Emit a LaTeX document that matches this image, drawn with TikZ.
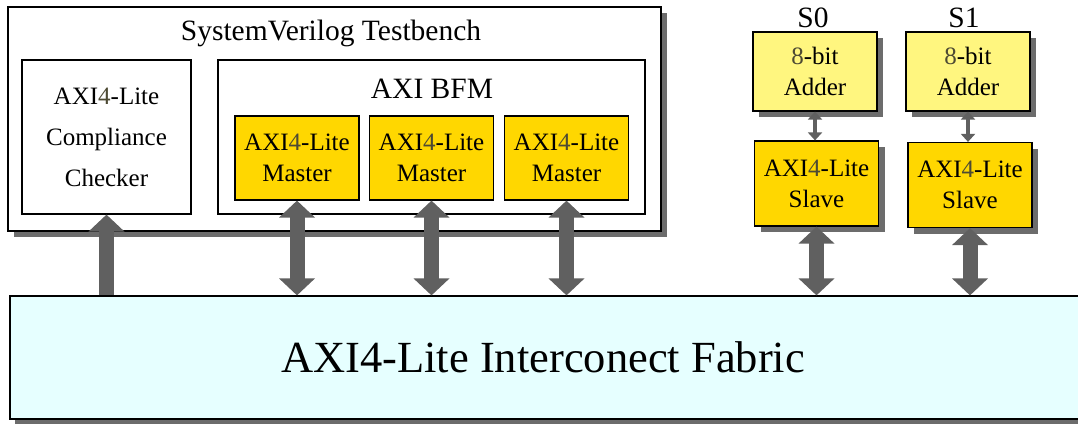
\documentclass[tikz,border=0pt]{standalone}
\usepackage{fontspec}
\setmainfont{Liberation Serif}
\usetikzlibrary{arrows.meta,shadows}
\definecolor{gold}{HTML}{FFD700}
\definecolor{paley}{HTML}{FFF67F}
\definecolor{busc}{HTML}{E6FFFF}
\definecolor{arrg}{HTML}{606060}
\definecolor{shdc}{HTML}{6C6C6C}
\definecolor{digc}{HTML}{4D4A33}
\newcommand{\dg}[1]{\textcolor{digc}{#1}}
\begin{document}
\begin{tikzpicture}[x=1pt,y=-1pt,
  box/.style={draw=black, line width=1.2pt, rectangle, inner sep=0pt, align=center, fill=white},
  shd/.style={drop shadow={shadow xshift=6pt, shadow yshift=-6pt, fill=shdc, opacity=1}},
  txt/.style={font=\fontsize{25}{31}\selectfont},
  ttl/.style={font=\fontsize{29.5}{32}\selectfont, inner sep=0pt},
  master/.style={box, txt, fill=gold, minimum width=124pt, minimum height=84pt},
  adder/.style={box, txt, shd, fill=paley, minimum width=124pt, minimum height=79pt},
  slave/.style={box, txt, shd, fill=gold, minimum width=124pt, minimum height=85pt},
  bigboth/.style={draw=arrg, line width=15pt, {Triangle[width=35pt,length=17pt]}-{Triangle[width=35pt,length=17pt]}},
  bigup/.style={draw=arrg, line width=15pt, -{Triangle[width=35pt,length=17pt]}},
  smallboth/.style={draw=arrg, line width=4.5pt, {Triangle[width=14pt,length=8pt]}-{Triangle[width=14pt,length=8pt]}}
]
\useasboundingbox (0,0) rectangle (1078,424);

% outer testbench
\node[box, shd, line width=1.5pt, minimum width=653pt, minimum height=224pt] (tb) at (334.5,119) {};
\node[ttl] (tbt) at (331,33) {SystemVerilog Testbench};

% checker
\node[box, minimum width=169pt, minimum height=154pt, font=\fontsize{25}{41}\selectfont] (chk) at (106.5,137) {AXI\dg{4}-Lite\\Compliance\\Checker};

% BFM
\node[box, minimum width=427pt, minimum height=154pt] (bfm) at (431.5,137) {};
\node[ttl] (bfmt) at (432,89) {AXI BFM};

% masters
\node[master] (m1) at (297,158) {AXI\dg{4}-Lite\\Master};
\node[master] (m2) at (431.5,158) {AXI\dg{4}-Lite\\Master};
\node[master] (m3) at (566.5,158) {AXI\dg{4}-Lite\\Master};

% slaves
\node[ttl] (s0l) at (813,18) {S0};
\node[ttl] (s1l) at (964,18) {S1};
\node[adder] (a0) at (815,71.5) {\dg{8}-bit\\Adder};
\node[adder] (a1) at (968,71.5) {\dg{8}-bit\\Adder};
\node[slave] (s0) at (816.5,183.5) {AXI\dg{4}-Lite\\Slave};
\node[slave] (s1) at (970,185) {AXI\dg{4}-Lite\\Slave};

% bus
\node[box, drop shadow={shadow xshift=5pt, shadow yshift=-5pt, fill=shdc, opacity=1}, fill=busc, minimum width=1075pt, minimum height=123pt, font=\fontsize{44.5}{48}\selectfont] (bus) at (547.5,357.5) {AXI4-Lite Interconect Fabric\hspace*{9pt}};

% arrows
\draw[bigup] (bus.north -| chk.south) -- (chk.south);
\draw[bigboth] (m1.south) -- (bus.north -| m1.south);
\draw[bigboth] (m2.south) -- (bus.north -| m2.south);
\draw[bigboth] (m3.south) -- (bus.north -| m3.south);
\draw[bigboth] (s0.south) -- (bus.north -| s0.south);
\draw[bigboth] (s1.south) -- (bus.north -| s1.south);
\draw[smallboth] (a0.south) -- (a0.south |- s0.north);
\draw[smallboth] (a1.south) -- (a1.south |- s1.north);
\end{tikzpicture}
\end{document}
